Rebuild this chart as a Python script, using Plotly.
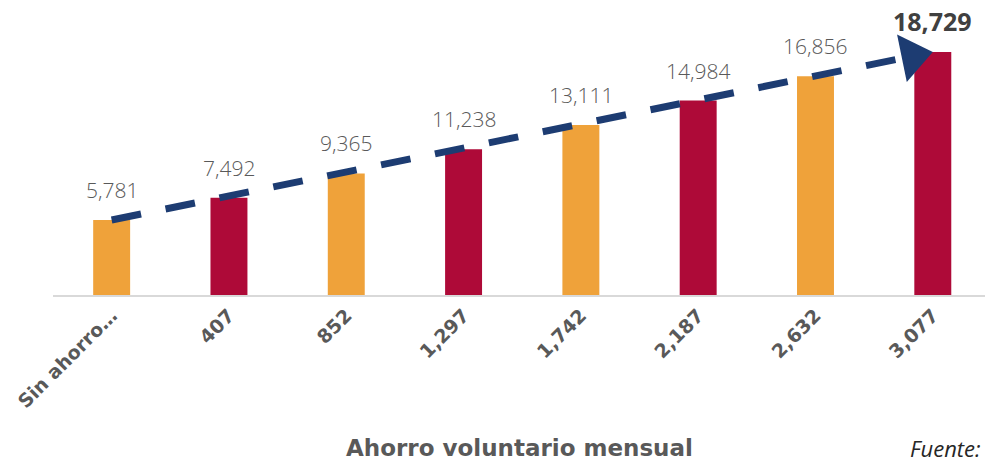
import plotly.graph_objects as go

categories = ["Sin ahorro…", "407", "852", "1,297", "1,742", "2,187", "2,632", "3,077"]
values = [5781, 7492, 9365, 11238, 13111, 14984, 16856, 18729]
value_labels = ["5,781", "7,492", "9,365", "11,238", "13,111", "14,984", "16,856", "18,729"]
bar_colors = ["#EFA23A", "#AE0A38"] * 4
x_title = "Ahorro voluntario mensual"

FONT = "Open Sans"
WIDE = "DejaVu Sans"
GRAY = "#595959"
NAVY = "#1D3C72"
xs = list(range(len(categories)))

# arrow geometry derived from the first and last values
PX_X = 117.3          # px per category
PX_Y = 275 / 21195    # px per unit
dx_px = (xs[-1] - xs[0]) * PX_X
dy_px = (values[-1] - values[0]) * PX_Y
L = (dx_px ** 2 + dy_px ** 2) ** 0.5
HEAD = 42
t_c = 1 - (HEAD / 2) / L            # triangle centre
t_b = 1 - (HEAD / 2 + HEAD / 4) / L  # triangle base (line end)


def along(t):
    return xs[0] + t * (xs[-1] - xs[0]), values[0] + t * (values[-1] - values[0])


fig = go.Figure()
fig.add_trace(go.Bar(x=xs, y=values, marker=dict(color=bar_colors, line=dict(width=0)),
                     width=0.315, hoverinfo="skip"))
xb, yb = along(t_b + 2 / L)
fig.add_trace(go.Scatter(
    x=[xs[0], xb], y=[values[0], yb], mode="lines",
    line=dict(color=NAVY, width=7, dash="30px,25px"), hoverinfo="skip"))
xc, yc = along(t_c)
fig.add_trace(go.Scatter(
    x=[xs[0], xc], y=[values[0], yc], mode="markers",
    marker=dict(symbol="triangle-up", size=[0, HEAD], angleref="previous", color=NAVY,
                opacity=1, line=dict(width=0)),
    hoverinfo="skip"))

for i, (v, t) in enumerate(zip(values, value_labels)):
    last = i == len(values) - 1
    fig.add_annotation(x=xs[i], y=v, text=f"<b>{t}</b>" if last else t, showarrow=False,
                       yanchor="bottom", yshift=14 if not last else 12,
                       font=dict(family=FONT, size=25 if last else 21,
                                 color="#404040" if last else GRAY,
                                 weight="bold" if last else 300))

fig.add_annotation(x=0.5, xref="paper", y=-(448 - 295) / 275, yref="paper",
                   text=f"<b>{x_title}</b>", showarrow=False, xanchor="center", yanchor="middle",
                   font=dict(family=WIDE, size=23, color=GRAY))

fig.add_annotation(x=1, xref="paper", y=-(448 - 295) / 275, yref="paper", text="<i>Fuente:</i>",
                   showarrow=False, xanchor="right", yanchor="middle", xshift=-2,
                   font=dict(family=FONT, size=22, color="#262626"))

fig.update_layout(
    width=985, height=463,
    margin=dict(l=53, r=0, t=20, b=168),
    paper_bgcolor="white", plot_bgcolor="white",
    showlegend=False,
    xaxis=dict(range=[-0.5, 7.445], tickvals=xs, ticktext=categories, tickangle=-45,
               tickfont=dict(family=WIDE, size=19, color=GRAY, weight="bold"),
               ticklabeloverflow="allow",
               showline=True, linecolor="#D9D9D9", linewidth=2, showgrid=False,
               ticks="", zeroline=False),
    yaxis=dict(range=[0, 21195], visible=False, showgrid=False, zeroline=False),
)

fig.write_html("out.html")
